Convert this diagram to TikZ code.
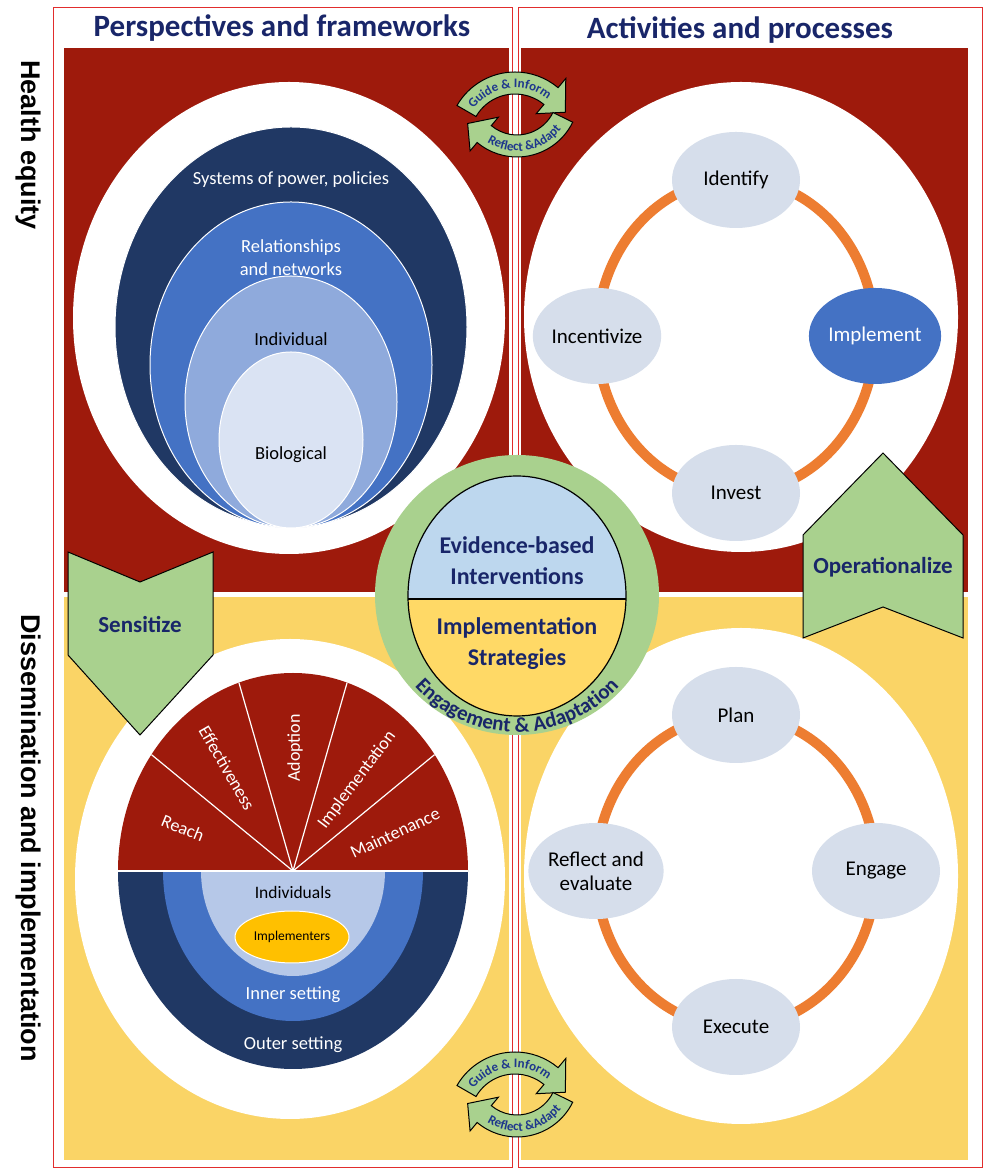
\documentclass[tikz,border=0pt]{standalone}
\usepackage{fontspec}
\setmainfont{Carlito}
\newfontfamily\sidefont{Liberation Sans}
\usetikzlibrary{shapes.geometric,decorations.text}

\definecolor{quadred}{RGB}{158,26,12}
\definecolor{quadyel}{RGB}{250,212,102}
\definecolor{navyblk}{RGB}{32,56,100}
\definecolor{midblue}{RGB}{68,114,196}
\definecolor{ltblue}{RGB}{143,170,220}
\definecolor{ltblue2}{RGB}{182,200,232}
\definecolor{paleblue}{RGB}{218,227,243}
\definecolor{cycfill}{RGB}{214,222,235}
\definecolor{ringor}{RGB}{237,125,49}
\definecolor{leafgreen}{RGB}{169,209,142}
\definecolor{skyfill}{RGB}{189,215,238}
\definecolor{goldfill}{RGB}{255,217,102}
\definecolor{inkblue}{RGB}{25,38,105}
\definecolor{arrtxt}{RGB}{30,55,140}
\definecolor{implorange}{RGB}{255,192,0}
\definecolor{framered}{RGB}{225,45,45}

\tikzset{
	ttl/.style={font=\bfseries\fontsize{31}{36}\selectfont, text=inkblue},
	sidelbl/.style={font=\sidefont\bfseries\fontsize{27}{30}\selectfont, rotate=-90},
	lvl/.style={font=\fontsize{18.5}{23}\selectfont, align=center},
	cyc/.style={ellipse, fill=cycfill, minimum width=128pt, minimum height=96pt, inner sep=0pt, font=\fontsize{21}{24}\selectfont, align=center},
	fanlbl/.style={text=white, font=\fontsize{18}{20}\selectfont},
	chev/.style={fill=leafgreen, draw=black, line width=1pt},
	chevlbl/.style={font=\bfseries\fontsize{23}{26}\selectfont, text=inkblue},
	core/.style={font=\bfseries\fontsize{24}{31}\selectfont, text=inkblue, align=center},
	bentarrow/.style={fill=leafgreen, draw=black, line width=1pt}
}

\begin{document}
\begin{tikzpicture}[x=1pt,y=1pt]
	\useasboundingbox (0,0) rectangle (987,1172);

	\fill[quadred] (64,580) rectangle (509,1124);
	\fill[quadred] (521,580) rectangle (968,1124);
	\fill[quadyel] (64,12) rectangle (509,575);
	\fill[quadyel] (521,12) rectangle (968,575);
	\draw[framered, line width=1pt] (53,4) rectangle (512,1164);
	\draw[framered, line width=1pt] (518,4) rectangle (982,1164);

	\fill[white] (289,854) ellipse[x radius=216, y radius=236];
	\fill[white] (741,855) ellipse[x radius=217, y radius=235];
	\fill[white] (290,293) ellipse[x radius=215, y radius=240];
	\fill[white] (741,296) ellipse[x radius=217, y radius=248];

	% nested levels
	\filldraw[fill=navyblk, draw=white, line width=1pt] (291,845) ellipse[x radius=176, y radius=200];
	\filldraw[fill=midblue, draw=white, line width=1pt] (291,807) ellipse[x radius=141, y radius=163];
	\filldraw[fill=ltblue, draw=white, line width=1pt] (291,770) ellipse[x radius=106, y radius=126];
	\filldraw[fill=paleblue, draw=white, line width=1pt] (291,732) ellipse[x radius=72, y radius=88];
	\node[lvl, text=white] (systems) at (291,992) {Systems of power, policies};
	\node[lvl, text=white] (relations) at (291,914) {Relationships\\and networks};
	\node[lvl] (individual) at (291,833) {Individual};
	\node[lvl] (biological) at (291,717) {Biological};

	\draw[ringor, line width=10pt] (736,836) ellipse[x radius=139, y radius=157];
	\node[cyc] (identify) at (736,992) {Identify};
	\node[cyc] (invest) at (736,679) {Invest};
	\node[cyc] (incentivize) at (597,836) {Incentivize};
	\node[cyc, fill=midblue, text=white] (implement) at (875,836) {Implement};

	% RE-AIM fan and settings
	\coordinate (apex) at (293,301);
	\fill[quadred] (118,301) arc[start angle=180, end angle=0, x radius=175, y radius=198] -- cycle;
	\foreach \t in {36,72,108,144}
		\draw[white, line width=1.2pt] (apex) -- +(\t:175 and 198);
	\fill[navyblk] (118,301) arc[start angle=180, end angle=360, x radius=175, y radius=198] -- cycle;
	\fill[midblue] (163,301) arc[start angle=180, end angle=360, x radius=130, y radius=150] -- cycle;
	\fill[ltblue2] (201,301) arc[start angle=180, end angle=360, x radius=92, y radius=105] -- cycle;
	\draw[white, line width=1.5pt] (118,301) -- (468,301);
	\node[fanlbl, rotate=-22] (reach) at (183,344) {Reach};
	\node[fanlbl, rotate=-60] (effect) at (227,404) {Effectiveness};
	\node[fanlbl, rotate=90] (adopt) at (295,424) {Adoption};
	\node[fanlbl, rotate=53] (implem) at (357,392) {Implementation};
	\node[fanlbl, rotate=25] (maint) at (395,339) {Maintenance};
	\node[lvl, font=\fontsize{17.5}{20}\selectfont] (individuals) at (293,280) {Individuals};
	\node[ellipse, fill=implorange, draw=white, line width=1pt, minimum width=114pt, minimum height=52pt, inner sep=0pt, font=\fontsize{13.5}{15}\selectfont] (implementers) at (292,235) {Implementers};
	\node[lvl, text=white] (inner) at (293,177) {Inner setting};
	\node[lvl, text=white] (outer) at (293,127) {Outer setting};

	\draw[ringor, line width=10pt] (736,301) ellipse[x radius=140, y radius=156];
	\node[cyc] (plan) at (736,457) {Plan};
	\node[cyc] (execute) at (736,145) {Execute};
	\node[cyc] (reflect) at (596,301) {Reflect and\\evaluate};
	\node[cyc] (engage) at (876,301) {Engage};

	% core
	\fill[leafgreen] (517,577) ellipse[x radius=142, y radius=140];
	\begin{scope}
		\clip (517,576) ellipse[x radius=109, y radius=120];
		\fill[skyfill] (400,573) rectangle (640,700);
		\fill[goldfill] (400,450) rectangle (640,573);
	\end{scope}
	\draw[line width=1.2pt] (517,576) ellipse[x radius=109, y radius=120];
	\draw[line width=1.2pt] (408,573) -- (626,573);
	\node[core] (ebi) at (517,611) {Evidence-based\\Interventions};
	\node[core] (strat) at (517,528) {Implementation\\Strategies};
	\path[decorate, decoration={text along path, text align=center, text color=inkblue,
		text={|\bfseries\fontsize{21}{21}\selectfont|Engagement {\&} Adaptation}}]
		(517,577) ++(205:137) arc[start angle=205, end angle=335, radius=137];

	\draw[chev] (68,620) -- (140,590) -- (213,620) -- (213,517) -- (140,437) -- (68,517) -- cycle;
	\node[chevlbl] (sensitize) at (140,547) {Sensitize};
	\draw[chev] (883,719) -- (963,637) -- (963,534) -- (883,565) -- (803,534) -- (803,637) -- cycle;
	\node[chevlbl] (operational) at (883,605) {Operationalize};

	% guide / reflect loops
	\foreach \ay in {1062,82} {
		\begin{scope}[shift={(515,\ay-29)}]
			\draw[bentarrow] (150:67) arc[start angle=150, end angle=50, radius=67] -- (50:79) -- (28:57) -- (50:33) -- (50:45) arc[start angle=50, end angle=150, radius=45] -- cycle;
			\path[decorate, decoration={text along path, text align=center, text color=arrtxt,
				text={|\bfseries\fontsize{13}{13}\selectfont|Guide {\&} Inform}}]
				(156:51) arc[start angle=156, end angle=38, radius=51];
		\end{scope}
		\begin{scope}[shift={(517,\ay+15)}]
			\draw[bentarrow] (-26:62) arc[start angle=-26, end angle=-130, radius=62] -- (-130:73) -- (-150:57) -- (-130:29) -- (-130:40) arc[start angle=-130, end angle=-26, radius=40] -- cycle;
			\path[decorate, decoration={text along path, text align=center, text color=arrtxt,
				text={|\bfseries\fontsize{13}{13}\selectfont|Reflect {\&}Adapt}}]
				(-140:56) arc[start angle=-140, end angle=-20, radius=56];
		\end{scope}
	}

	\node[ttl] (persp) at (282,1144) {Perspectives and frameworks};
	\node[ttl] (activ) at (740,1142) {Activities and processes};
	\node[sidelbl] (equity) at (28,1027) {Health equity};
	\node[sidelbl] (dissem) at (28,334) {Dissemination and implementation};
\end{tikzpicture}
\end{document}
